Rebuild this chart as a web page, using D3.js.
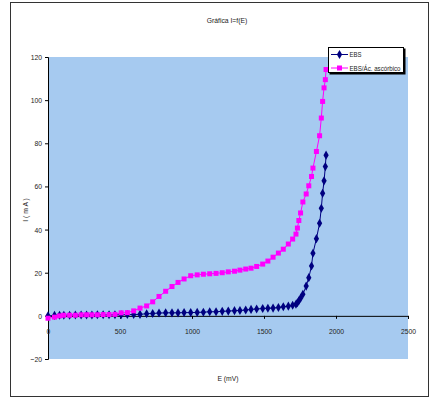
<!DOCTYPE html>
<html>
<head>
<meta charset="utf-8">
<script src="https://cdn.jsdelivr.net/npm/d3@7"></script>
<style>
    body { margin: 0; background: #fff; }
    text { font-family: "Liberation Sans", Arial, sans-serif; fill: #222; }
</style>
</head>
<body>
<div id="chart"></div>
<script>
// potential E (mV), shared by both series
const potentials = [0, 45, 80, 110, 150, 190, 230, 268, 305, 343, 383, 424, 465, 508, 551, 595, 639,
    685, 727, 771, 817, 861, 903, 945, 991, 1036, 1079, 1123, 1167, 1210, 1252, 1295, 1333, 1373,
    1410, 1449, 1491, 1527, 1563, 1600, 1634, 1669, 1699, 1722, 1732, 1742, 1754, 1770, 1793, 1811,
    1830, 1840, 1864, 1886, 1898, 1907, 1917, 1926, 1931];

// current I (mA)
const ebs = [0.0, 0.2, 0.3, 0.3, 0.3, 0.4, 0.4, 0.4, 0.4, 0.5, 0.5, 0.5, 0.5, 0.5, 0.6, 0.6, 0.7,
    1.0, 1.1, 1.3, 1.4, 1.4, 1.4, 1.5, 1.5, 1.6, 1.7, 1.9, 1.9, 2.1, 2.2, 2.4, 2.5, 2.7,
    3.0, 3.2, 3.4, 3.5, 3.6, 3.9, 4.2, 4.5, 4.9, 5.4, 6.1, 7.0, 8.2, 10.0, 13.8, 17.7,
    23.1, 29.0, 35.8, 42.9, 49.9, 56.8, 62.6, 69.2, 74.5];

const ascorbico = [-1.1, -0.6, 0.0, 0.3, 0.3, 0.3, 0.5, 0.5, 0.5, 0.5, 0.6, 0.6, 0.7, 1.4, 1.5, 2.3, 3.6,
    4.6, 6.5, 9.0, 11.4, 13.6, 15.5, 17.1, 18.6, 19.0, 19.3, 19.5, 19.7, 20.0, 20.4, 20.7, 21.2, 21.7,
    22.1, 22.9, 24.0, 25.4, 27.2, 29.1, 30.9, 33.3, 35.6, 37.9, 40.7, 44.2, 47.7, 52.8, 56.5, 60.3,
    64.6, 68.5, 76.2, 83.5, 91.7, 99.4, 105.7, 109.5, 114.2];

const xTicks = [0, 500, 1000, 1500, 2000, 2500];
const yTicks = [-20, 0, 20, 40, 60, 80, 100, 120];
const seriesNames = ["EBS", "EBS/Ác. ascórbico"];

const svg = d3.select("#chart").append("svg")
    .attr("width", 432)
    .attr("height", 398);

// outer frame
svg.append("rect")
    .attr("x", 10.5).attr("y", 2.5)
    .attr("width", 418).attr("height", 394)
    .attr("fill", "#fff")
    .attr("stroke", "#333")
    .attr("stroke-width", 1);

const x = d3.scaleLinear().domain([0, 2500]).range([48, 408]);
const y = d3.scaleLinear().domain([-20, 120]).range([359, 57]);

svg.append("rect")
    .attr("x", x(0)).attr("y", y(120))
    .attr("width", x(2500) - x(0))
    .attr("height", y(-20) - y(120))
    .attr("fill", "#a6caf0");

// squeeze text a little, like the narrow font of the original
function narrow(sel, ratio) {
    sel.each(function() {
        const len = this.getComputedTextLength();
        d3.select(this)
            .attr("textLength", len * ratio)
            .attr("lengthAdjust", "spacingAndGlyphs");
    });
}

// y axis
svg.append("g")
    .attr("transform", `translate(${x(0)},0)`)
    .call(d3.axisLeft(y).tickValues(yTicks).tickSize(3).tickPadding(3).tickFormat(d3.format("d")))
    .call(g => g.selectAll("path, line").attr("stroke", "#000"))
    .call(g => g.selectAll("text").style("font-size", "8px").attr("fill", "#222").call(narrow, 0.85));

// x axis sits at I = 0
svg.append("g")
    .attr("transform", `translate(0,${y(0)})`)
    .call(d3.axisBottom(x).tickValues(xTicks).tickSize(3).tickPadding(9).tickFormat(d3.format("d")))
    .call(g => g.selectAll("path, line").attr("stroke", "#000"))
    .call(g => g.selectAll("text").style("font-size", "8px").attr("fill", "#222").call(narrow, 0.85));

const line = d3.line()
    .x((d, i) => x(potentials[i]))
    .y(d => y(d));

svg.append("path")
    .datum(ebs)
    .attr("fill", "none")
    .attr("stroke", "#000080")
    .attr("stroke-width", 1)
    .attr("d", line);

svg.append("path")
    .datum(ascorbico)
    .attr("fill", "none")
    .attr("stroke", "#ff00ff")
    .attr("stroke-width", 1)
    .attr("d", line);

const diamond = d3.symbol().type(d3.symbolDiamond).size(24);

svg.selectAll(".ebs")
    .data(ebs)
    .enter().append("path")
    .attr("class", "ebs")
    .attr("transform", (d, i) => `translate(${x(potentials[i])},${y(d)})`)
    .attr("d", diamond)
    .attr("fill", "#000080");

svg.selectAll(".asc")
    .data(ascorbico)
    .enter().append("rect")
    .attr("class", "asc")
    .attr("x", (d, i) => x(potentials[i]) - 2.5)
    .attr("y", d => y(d) - 2.5)
    .attr("width", 5)
    .attr("height", 5)
    .attr("fill", "#ff00ff");

// titles
svg.append("text")
    .attr("x", 227)
    .attr("y", 23)
    .attr("text-anchor", "middle")
    .style("font-size", "8px")
    .text("Gráfica I=f(E)")
    .call(narrow, 0.85);

svg.append("text")
    .attr("x", 228)
    .attr("y", 381)
    .attr("text-anchor", "middle")
    .style("font-size", "8px")
    .text("E (mV)")
    .call(narrow, 0.85);

svg.append("text")
    .attr("transform", "rotate(-90)")
    .attr("x", -210)
    .attr("y", 28)
    .attr("text-anchor", "middle")
    .style("font-size", "8px")
    .text("I  ( m A )")
    .call(narrow, 0.85);

// legend with a drop shadow
const legend = svg.append("g");
legend.append("rect")
    .attr("x", 329.5).attr("y", 48.5)
    .attr("width", 76).attr("height", 26)
    .attr("fill", "#000");
legend.append("rect")
    .attr("x", 328.5).attr("y", 47.5)
    .attr("width", 75).attr("height", 25)
    .attr("fill", "#fff")
    .attr("stroke", "#000")
    .attr("stroke-width", 1);

const colors = ["#000080", "#ff00ff"];
seriesNames.forEach((name, i) => {
    const ly = 54.5 + i * 13.5;
    legend.append("line")
        .attr("x1", 331).attr("x2", 348)
        .attr("y1", ly).attr("y2", ly)
        .attr("stroke", colors[i])
        .attr("stroke-width", 1);
    if (i === 0) {
        legend.append("path")
            .attr("transform", `translate(339.5,${ly})`)
            .attr("d", diamond)
            .attr("fill", colors[i]);
    } else {
        legend.append("rect")
            .attr("x", 337).attr("y", ly - 2.5)
            .attr("width", 5).attr("height", 5)
            .attr("fill", colors[i]);
    }
    const label = legend.append("text")
        .attr("x", 349.5)
        .attr("y", ly + 2.5)
        .style("font-size", "7px")
        .text(name);
    // long label has to fit inside the box
    if (i === 0) label.call(narrow, 0.85);
    else label.attr("textLength", 51).attr("lengthAdjust", "spacingAndGlyphs");
});
</script>
</body>
</html>
